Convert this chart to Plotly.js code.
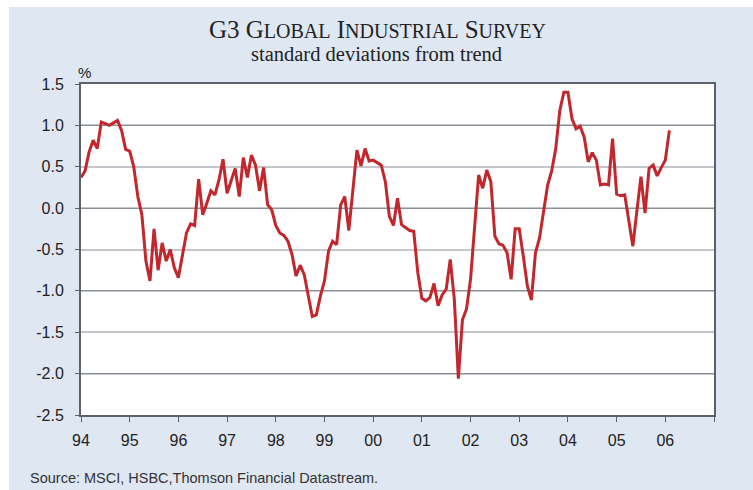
<!DOCTYPE html>
<html>
<head>
<meta charset="utf-8">
<script src="https://cdn.plot.ly/plotly-3.0.1.min.js"></script>
<style>html,body{margin:0;padding:0;background:#fff;}#chart{width:753px;height:490px;}</style>
</head>
<body>
<div id="chart"></div>
<script>
// Monthly values, standard deviations from trend (Jan of each year first)
const y1994 = [0.37, 0.45, 0.68, 0.82, 0.72, 1.04, 1.02, 1.00, 1.03, 1.06, 0.94, 0.71];
const y1995 = [0.69, 0.50, 0.14, -0.08, -0.64, -0.88, -0.25, -0.75, -0.42, -0.64, -0.50, -0.72];
const y1996 = [-0.84, -0.58, -0.30, -0.19, -0.21, 0.35, -0.08, 0.06, 0.21, 0.16, 0.34, 0.59];
const y1997 = [0.18, 0.33, 0.48, 0.14, 0.61, 0.37, 0.64, 0.52, 0.21, 0.49, 0.04, -0.02];
const y1998 = [-0.21, -0.30, -0.33, -0.40, -0.56, -0.82, -0.69, -0.80, -1.04, -1.31, -1.29, -1.06];
const y1999 = [-0.88, -0.52, -0.40, -0.44, 0.04, 0.14, -0.27, 0.18, 0.70, 0.51, 0.72, 0.57];
const y2000 = [0.58, 0.55, 0.52, 0.32, -0.10, -0.21, 0.12, -0.20, -0.23, -0.27, -0.28, -0.78];
const y2001 = [-1.09, -1.12, -1.08, -0.91, -1.18, -1.05, -0.98, -0.62, -1.10, -2.06, -1.35, -1.22];
const y2002 = [-0.86, -0.26, 0.40, 0.24, 0.46, 0.32, -0.34, -0.43, -0.45, -0.54, -0.86, -0.25];
const y2003 = [-0.25, -0.58, -0.94, -1.11, -0.54, -0.36, -0.04, 0.28, 0.45, 0.72, 1.18, 1.40];
const y2004 = [1.40, 1.08, 0.96, 0.99, 0.86, 0.56, 0.67, 0.58, 0.28, 0.29, 0.28, 0.84];
const y2005 = [0.17, 0.15, 0.16, -0.16, -0.46, -0.03, 0.38, -0.06, 0.48, 0.52, 0.39, 0.49];
const y2006 = [0.58, 0.94];

const seriesYears = [1994, 1995, 1996, 1997, 1998, 1999, 2000, 2001, 2002, 2003, 2004, 2005, 2006];
const seriesByYear = [y1994, y1995, y1996, y1997, y1998, y1999, y2000, y2001, y2002, y2003, y2004, y2005, y2006];

const xTickVals = [1994, 1995, 1996, 1997, 1998, 1999, 2000, 2001, 2002, 2003, 2004, 2005, 2006, 2007];
const xTickLabels = ['94', '95', '96', '97', '98', '99', '00', '01', '02', '03', '04', '05', '06', ''];
const yTickVals = [1.5, 1.0, 0.5, 0.0, -0.5, -1.0, -1.5, -2.0, -2.5];
const yTickLabels = ['1.5', '1.0', '0.5', '0.0', '-0.5', '-1.0', '-1.5', '-2.0', '-2.5'];

const titleText = 'G3 G<span style="font-size:20px">LOBAL</span> I<span style="font-size:20px">NDUSTRIAL</span> S<span style="font-size:20px">URVEY</span>';
const subtitleText = 'standard deviations from trend';
const unitText = '%';
const sourceText = 'Source: MSCI, HSBC,Thomson Financial Datastream.';

// Build the time axis (month positions) from the yearly arrays
const xs = [], ys = [];
seriesByYear.forEach((arr, i) => {
  arr.forEach((v, m) => { xs.push(seriesYears[i] + m / 12); ys.push(v); });
});

const traces = [
  { x: xs, y: ys, type: 'scatter', mode: 'lines',
    line: { color: '#C1272D', width: 3 }, hoverinfo: 'skip', showlegend: false },
  { x: [], y: [], yaxis: 'y2', type: 'scatter', mode: 'lines', showlegend: false }
];

const axisFont = { family: 'Liberation Sans, Arial, sans-serif', size: 16, color: '#222' };

const layout = {
  width: 753, height: 490,
  margin: { l: 81, r: 39, t: 84, b: 75, pad: 0 },
  paper_bgcolor: '#ffffff',
  plot_bgcolor: '#ffffff',
  showlegend: false,
  xaxis: {
    range: [1994, 2007], tickmode: 'array', tickvals: xTickVals, ticktext: xTickLabels,
    showgrid: false, zeroline: false, showline: true, mirror: true,
    linecolor: '#5d6269', linewidth: 2,
    ticks: 'outside', ticklen: 5, tickwidth: 1, tickcolor: '#5d6269',
    ticklabelstandoff: 5, tickfont: axisFont, fixedrange: true
  },
  yaxis: {
    range: [-2.5, 1.5], tickmode: 'array', tickvals: yTickVals, ticktext: yTickLabels,
    showgrid: true, gridcolor: '#c3c7cc', gridwidth: 2,
    zeroline: false, showline: true, mirror: true,
    linecolor: '#5d6269', linewidth: 2,
    ticks: 'outside', ticklen: 4, tickwidth: 1, tickcolor: '#5d6269',
    ticklabelstandoff: 8, tickfont: axisFont, fixedrange: true
  },
  yaxis2: {
    overlaying: 'y', side: 'left', range: [-2.5, 1.5], dtick: 1, tick0: 0,
    showgrid: true, gridcolor: '#8b9097', gridwidth: 1,
    showticklabels: false, ticks: '', showline: false, zeroline: false, fixedrange: true
  },
  shapes: [
    { type: 'rect', xref: 'paper', yref: 'paper', x0: -0.1137, x1: 1.07, y0: -0.24, y1: 1.2326,
      fillcolor: '#dfe7f3', line: { width: 0 }, layer: 'below' },
    { type: 'rect', xref: 'paper', yref: 'paper', x0: 0, x1: 1, y0: 0, y1: 1,
      fillcolor: '#ffffff', line: { width: 0 }, layer: 'below' }
  ],
  annotations: [
    { text: titleText, xref: 'paper', yref: 'paper', x: 0.4685, y: 1.165, xanchor: 'center', yanchor: 'middle',
      showarrow: false, font: { family: 'Liberation Serif, Times New Roman, serif', size: 25, color: '#222' } },
    { text: subtitleText, xref: 'paper', yref: 'paper', x: 0.4675, y: 1.091, xanchor: 'center', yanchor: 'middle',
      showarrow: false, font: { family: 'Liberation Serif, Times New Roman, serif', size: 20.5, color: '#222' } },
    { text: unitText, xref: 'paper', yref: 'paper', x: 0.005, y: 1.036, xanchor: 'center', yanchor: 'middle',
      showarrow: false, font: { family: 'Liberation Sans, Arial, sans-serif', size: 15, color: '#222' } },
    { text: sourceText, xref: 'paper', yref: 'paper', x: -0.0837, y: -0.19, xanchor: 'left', yanchor: 'middle',
      showarrow: false, font: { family: 'Liberation Sans, Arial, sans-serif', size: 14.5, color: '#333' } }
  ]
};

Plotly.newPlot('chart', traces, layout, { staticPlot: true, displayModeBar: false });
</script>
</body>
</html>
